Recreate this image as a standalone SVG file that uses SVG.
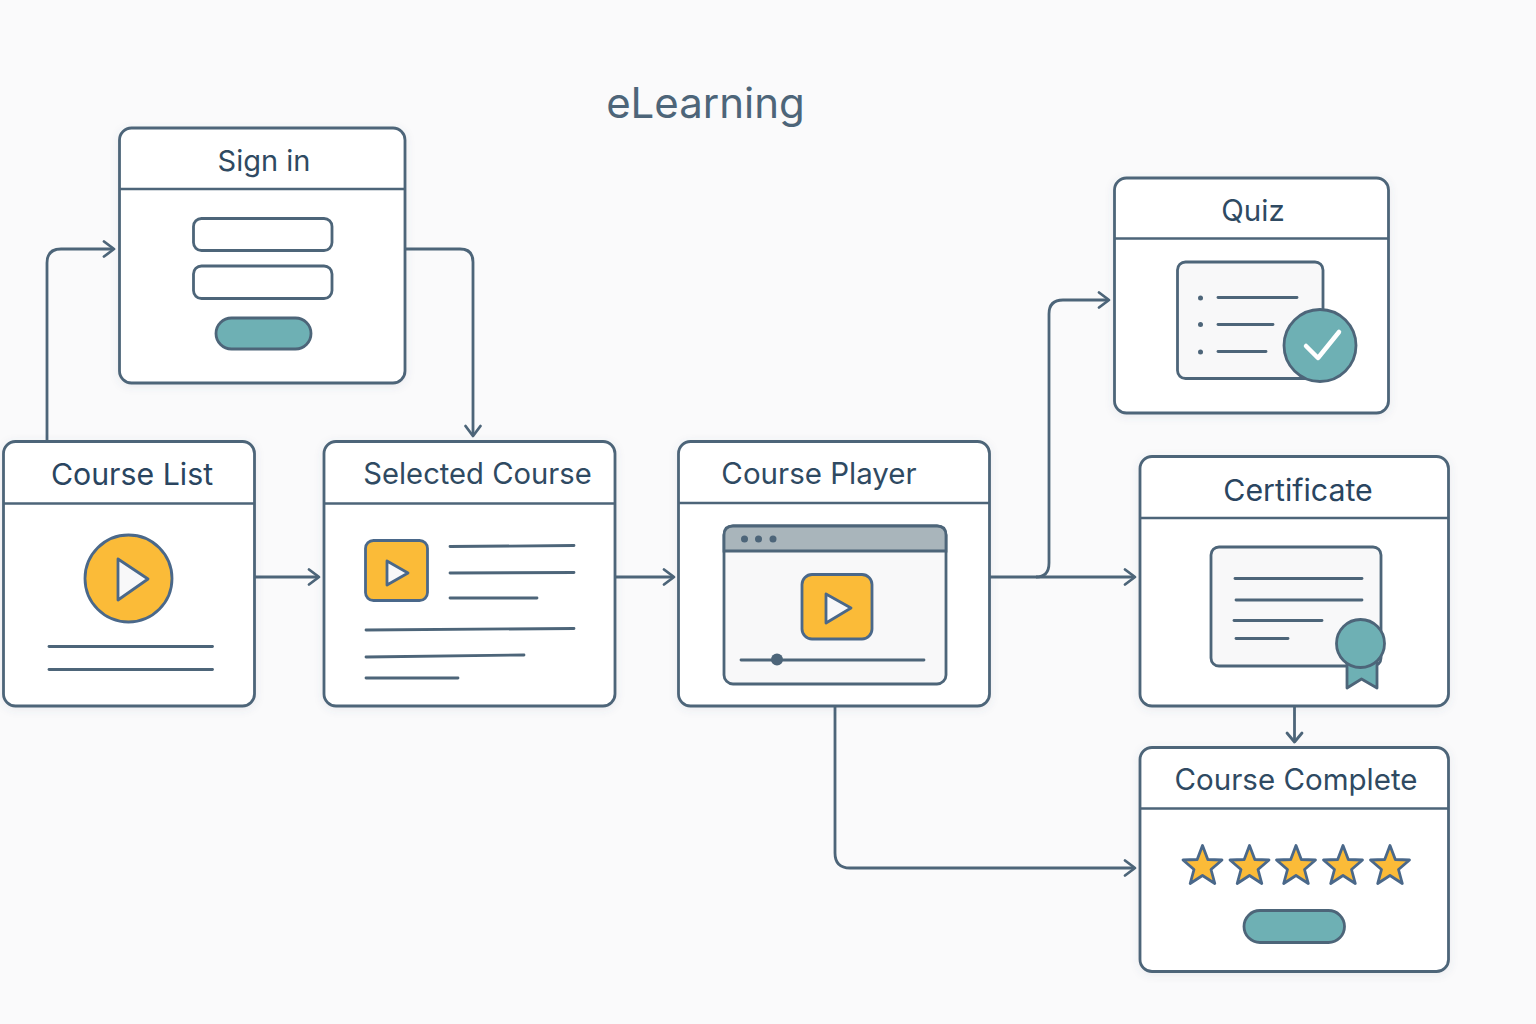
<svg xmlns="http://www.w3.org/2000/svg" width="1536" height="1024" viewBox="0 0 1536 1024">
<style>
.card{fill:#fff;stroke:#4d6579;stroke-width:2.8;filter:url(#sh)}
.sep,.ln{stroke:#4d6579;fill:none}
.sep{stroke-width:2.6}
.ln{stroke-width:2.8;stroke-linecap:round}
.conn{fill:none;stroke:#4d6579;stroke-width:2.8;stroke-linejoin:round}
.head{fill:none;stroke:#4d6579;stroke-width:2.8;stroke-linecap:round;stroke-linejoin:round}
.t{font-family:Inter,"Liberation Sans",sans-serif;font-size:29.5px;fill:#2f4a62;text-anchor:middle}
.panel{fill:#f8f8f9;stroke:#4d6579;stroke-width:2.8}
.teal{fill:#6eb0b4;stroke:#4d6579;stroke-width:2.8}
.amber{fill:#fbbb38;stroke:#4a688a;stroke-width:2.8}
.play{fill:#f8f8f9;stroke:#4a688a;stroke-width:2.8;stroke-linejoin:round}
.dot{fill:#4d6579}
</style>
<defs>
<filter id="sh" x="-5%" y="-5%" width="110%" height="110%"><feDropShadow dx="0" dy="2" stdDeviation="4" flood-color="#4d6579" flood-opacity="0.1"/></filter>
<polygon id="star" points="0,-20.500 5.300,-6.500 19.500,-6 8.500,3.500 12.300,17.500 0,9.500 -12.300,17.500 -8.500,3.500 -19.500,-6 -5.300,-6.500" fill="#fbbb38" stroke="#4a688a" stroke-width="2.800" stroke-linejoin="round"/>
</defs>
<rect width="1536" height="1024" fill="#fafafb"/>
<text id="title" x="705.500" y="118" style="font-family:Inter,'Liberation Sans',sans-serif;font-size:42px;fill:#4d6579;text-anchor:middle">eLearning</text>
<g id="connectors">
<path class="conn" d="M47 441V263Q47 249 61 249H113"/><path class="head" d="M104 241.500L114 249L104 256.500"/>
<path class="conn" d="M406 249H460Q473 249 473 262V435"/><path class="head" d="M465.500 426L473 436L480.500 426"/>
<path class="conn" d="M255 577H318"/><path class="head" d="M309 569.500L319 577L309 584.500"/>
<path class="conn" d="M616 577H673"/><path class="head" d="M664 569.500L674 577L664 584.500"/>
<path class="conn" d="M990 577H1134"/><path class="head" d="M1125 569.500L1135 577L1125 584.500"/>
<path class="conn" d="M1036 577Q1049 577 1049 563V314Q1049 300 1063 300H1108"/><path class="head" d="M1099 292.500L1109 300L1099 307.500"/>
<path class="conn" d="M835 706V853Q835 868 850 868H1134"/><path class="head" d="M1125 860.500L1135 868L1125 875.500"/>
<path class="conn" d="M1294.500 706V741"/><path class="head" d="M1287 733L1294.500 742L1302 733"/>
</g>
<g id="sign-in">
<rect class="card" x="119.500" y="128" width="285.500" height="255" rx="12"/>
<line class="sep" x1="120" y1="189" x2="405" y2="189"/>
<text class="t" x="264" y="171" style="font-size:29px">Sign in</text>
<rect x="193.500" y="218.500" width="138.500" height="32" rx="8" fill="#fff" stroke="#4d6579" stroke-width="2.8"/>
<rect x="193.500" y="266" width="138.500" height="32.500" rx="8" fill="#fff" stroke="#4d6579" stroke-width="2.8"/>
<rect class="teal" x="216" y="318" width="95" height="31" rx="15.500"/>
</g>
<g id="course-list">
<rect class="card" x="3.500" y="441.500" width="251" height="264.500" rx="12"/>
<line class="sep" x1="4" y1="503.500" x2="254" y2="503.500"/>
<text class="t" x="132" y="484.500" style="font-size:30.300px;fill:#2a4560">Course List</text>
<circle class="amber" cx="128.500" cy="578.500" r="43.500"/>
<path class="play" d="M118 559L148 579L118 600Z"/>
<line class="ln" x1="49" y1="646.500" x2="212.500" y2="646.500"/>
<line class="ln" x1="49" y1="669.500" x2="212.500" y2="669.500"/>
</g>
<g id="selected-course">
<rect class="card" x="324" y="441.500" width="291" height="264.500" rx="12"/>
<line class="sep" x1="325" y1="503.500" x2="615" y2="503.500"/>
<text class="t" x="477.500" y="484" style="font-size:29.200px">Selected Course</text>
<rect class="amber" x="365.500" y="540.500" width="62" height="60" rx="8"/>
<path class="play" d="M387 561L408 573L387 585Z"/>
<line class="ln" x1="450" y1="546.500" x2="574" y2="545.500"/>
<line class="ln" x1="450" y1="573" x2="574" y2="572.500"/>
<line class="ln" x1="450" y1="598" x2="537" y2="598"/>
<line class="ln" x1="366" y1="630" x2="574" y2="628.500"/>
<line class="ln" x1="366" y1="657" x2="524" y2="655"/>
<line class="ln" x1="366" y1="678" x2="458" y2="678"/>
</g>
<g id="course-player">
<rect class="card" x="678.500" y="441.500" width="311" height="264.500" rx="12"/>
<line class="sep" x1="679" y1="503" x2="989" y2="503"/>
<text class="t" x="819" y="484">Course Player</text>
<rect class="panel" x="724" y="526" width="222" height="158" rx="9"/>
<path d="M724 551V535Q724 526 733 526H937Q946 526 946 535V551Z" fill="#a9b5bb" stroke="#4d6579" stroke-width="2.800"/>
<circle class="dot" cx="744.500" cy="539" r="3.500"/><circle class="dot" cx="758.500" cy="539" r="3.500"/><circle class="dot" cx="773" cy="539" r="3.500"/>
<rect class="amber" x="802" y="574.500" width="70" height="64.500" rx="10"/>
<path class="play" d="M826 594L851 608L826 623Z"/>
<line class="ln" x1="741" y1="660" x2="924" y2="660"/>
<circle class="dot" cx="777" cy="659.500" r="6"/>
</g>
<g id="quiz">
<rect class="card" x="1114.500" y="178" width="274" height="235" rx="12"/>
<line class="sep" x1="1115" y1="238.500" x2="1388" y2="238.500"/>
<text class="t" x="1253" y="221">Quiz</text>
<rect class="panel" x="1177.500" y="262" width="145.500" height="116.500" rx="8"/>
<circle class="dot" cx="1200.500" cy="298" r="2.500"/><circle class="dot" cx="1200.500" cy="324.500" r="2.500"/><circle class="dot" cx="1200.500" cy="352" r="2.500"/>
<line class="ln" x1="1218" y1="297.500" x2="1297" y2="297.500"/>
<line class="ln" x1="1218" y1="324.500" x2="1273" y2="324.500"/>
<line class="ln" x1="1218" y1="351.500" x2="1266" y2="351.500"/>
<circle class="teal" cx="1320" cy="345.500" r="36"/>
<path d="M1306 346L1318 358L1339 332" fill="none" stroke="#fff" stroke-width="4.500" stroke-linecap="round" stroke-linejoin="round"/>
</g>
<g id="certificate">
<rect class="card" x="1140" y="456.500" width="308.500" height="249.500" rx="12"/>
<line class="sep" x1="1141" y1="518" x2="1448" y2="518"/>
<text class="t" x="1298" y="500.500" style="font-size:30.300px;fill:#2a4560">Certificate</text>
<rect class="panel" x="1211" y="547" width="170" height="119" rx="8"/>
<line class="ln" x1="1235" y1="578.500" x2="1362" y2="578.500"/>
<line class="ln" x1="1236" y1="600" x2="1362" y2="600"/>
<line class="ln" x1="1234" y1="620.500" x2="1322" y2="620.500"/>
<line class="ln" x1="1236" y1="638.500" x2="1288" y2="638.500"/>
<path class="teal" d="M1347 660V688L1361.500 679L1377 688V660Z" stroke-linejoin="round"/>
<circle class="teal" cx="1360.500" cy="643.500" r="24"/>
</g>
<g id="course-complete">
<rect class="card" x="1140" y="747.500" width="308.500" height="224" rx="12"/>
<line class="sep" x1="1141" y1="808.500" x2="1448" y2="808.500"/>
<text class="t" x="1296" y="790">Course Complete</text>
<use href="#star" x="1202.500" y="866"/><use href="#star" x="1249.500" y="866"/><use href="#star" x="1296" y="866"/><use href="#star" x="1343" y="866"/><use href="#star" x="1390" y="866"/>
<rect class="teal" x="1244" y="910.500" width="100.500" height="32" rx="16"/>
</g>
</svg>
